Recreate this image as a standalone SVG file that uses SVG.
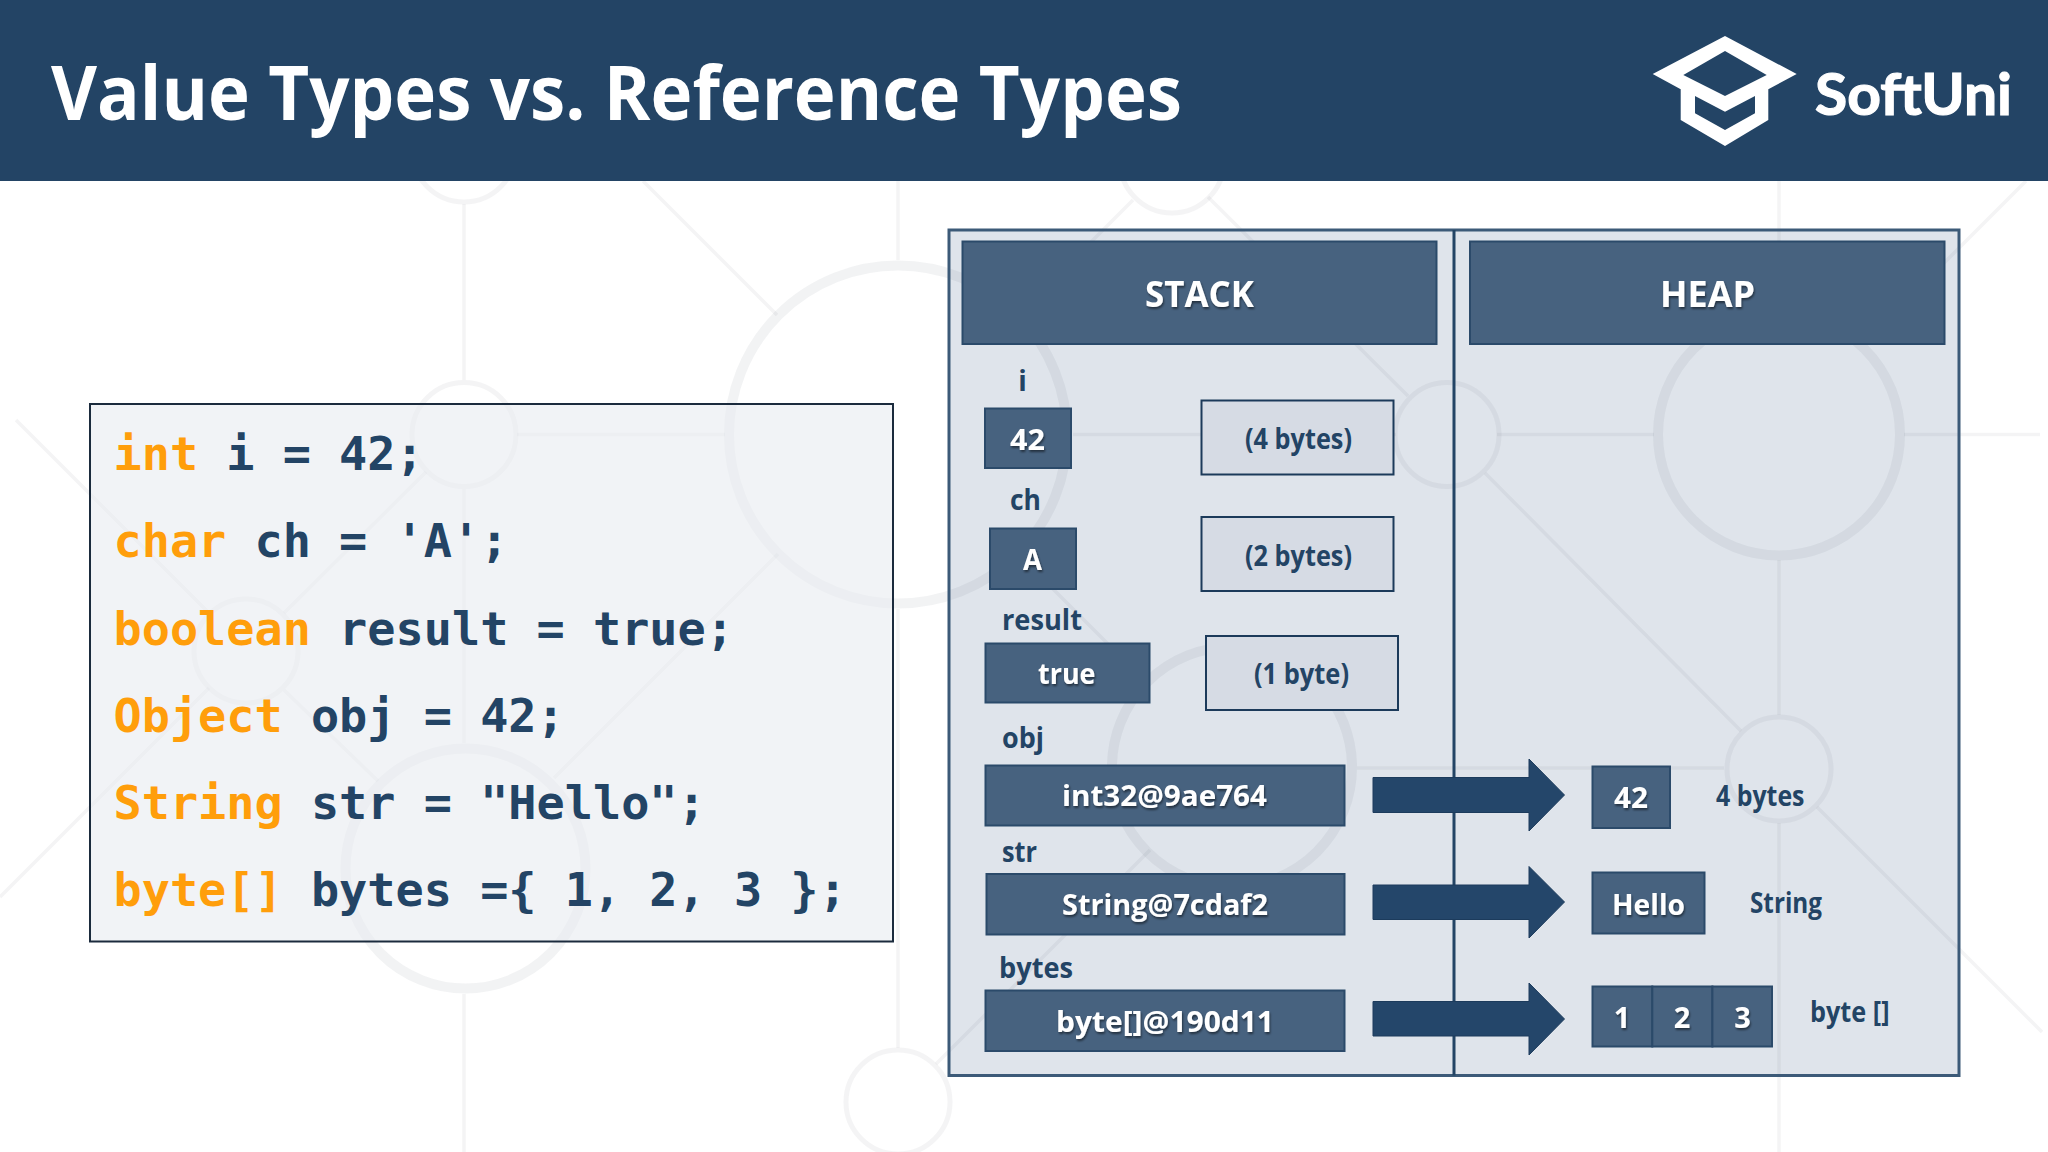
<svg xmlns="http://www.w3.org/2000/svg" width="2048" height="1152" viewBox="0 0 2048 1152">
<style>
text{font-family:"Open Sans","Liberation Sans",sans-serif;font-weight:700}
.bgl{stroke:rgba(60,70,85,.06);stroke-width:3.5;fill:none}
.bgs{stroke:rgba(60,70,85,.06);stroke-width:5;fill:none}
.bgb{stroke:rgba(60,70,85,.065);stroke-width:10;fill:none}
.box{fill:#47627f;stroke:#2b4a6a;stroke-width:2}
.note{fill:#d6dbe4;stroke:#1c3a5a;stroke-width:2}
.w{fill:#fff;font-size:29px;filter:url(#sh)}
.d{fill:#234465;font-size:28px}
.code{font-family:"DejaVu Sans Mono","Liberation Mono",monospace;font-size:46.85px;fill:#234465}
.k{fill:#ff9e0b}
.arr{fill:#24466a;stroke:#1c3b5c;stroke-width:1}
</style>
<defs>
<filter id="sh" x="-10%" y="-20%" width="120%" height="150%"><feDropShadow dx="1" dy="2" stdDeviation="1" flood-color="#000" flood-opacity=".5"/></filter>
</defs>
<rect width="2048" height="1152" fill="#fff"/>
<rect x="949" y="230" width="1010" height="845.500" fill="#dfe4eb"/>
<g id="background-pattern">
<path class="bgl" d="M464 204V380M464 489V743M464 994V1152M898 181V260M898 609V1048M1779 181V310M1779 560V715M1779 823V1152M517 434.500H725M1073 434.500H1396M1497 434.500H1654M1904 434.500H2040M1357 768H1724M643 181L777 315M1208 197L1408 396M1133 200L1021 312M1485 473L1741 731M1817 807L2042 1032M2026 181L1865 342M16 420L208 612M284 690L378 781M284 613L426 472M209 688L0 897M778 554L554 778M1020 556L1143 679M1150 850L936 1064"/>
<circle class="bgs" cx="464" cy="150" r="52"/>
<circle class="bgs" cx="464" cy="434.500" r="52"/>
<circle class="bgs" cx="1447" cy="434.500" r="52"/>
<circle class="bgs" cx="1172" cy="161" r="52"/>
<circle class="bgs" cx="246" cy="651" r="52"/>
<circle class="bgs" cx="1779" cy="769" r="52"/>
<circle class="bgs" cx="898" cy="1102" r="52"/>
<circle class="bgb" cx="898" cy="434.500" r="169"/>
<circle class="bgb" cx="1779" cy="434.500" r="121"/>
<circle class="bgb" cx="465.500" cy="868.500" r="120"/>
<circle class="bgb" cx="1232" cy="767" r="120"/>
</g>
<g id="header">
<rect width="2048" height="181" fill="#234465"/>
<text x="51" y="119.500" fill="#fff" font-size="76" textLength="1131" lengthAdjust="spacingAndGlyphs">Value Types vs. Reference Types</text>
</g>
<g id="logo">
<path fill="#fff" fill-rule="evenodd" d="M1725 36L1796.700 74L1768.300 89.300V120L1725 146L1680.700 120V89.300L1652.700 74ZM1725 51L1683.300 75L1725 96L1766.700 75ZM1695 96V113.300L1725 130L1755 113.300V96L1725 111.700Z"/>
<text x="1815" y="115" fill="#fff" stroke="#fff" stroke-width="1.2" font-size="58" style="font-family:Lato,'Open Sans',sans-serif" textLength="197" lengthAdjust="spacingAndGlyphs">SoftUni</text>
</g>
<g id="code">
<rect x="90" y="404" width="803" height="537.500" fill="rgba(232,235,240,.6)" stroke="#1b2b3d" stroke-width="2"/>
<text class="code" x="113.500" y="470"><tspan class="k">int</tspan> i = 42;</text>
<text class="code" x="113.500" y="557"><tspan class="k">char</tspan> ch = 'A';</text>
<text class="code" x="113.500" y="644.500"><tspan class="k">boolean</tspan> result = true;</text>
<text class="code" x="113.500" y="731.500"><tspan class="k">Object</tspan> obj = 42;</text>
<text class="code" x="113.500" y="818.500"><tspan class="k">String</tspan> str = "Hello";</text>
<text class="code" x="113.500" y="905.500"><tspan class="k">byte[]</tspan> bytes ={ 1, 2, 3 };</text>
</g>
<g id="memory-panel">
<rect x="949" y="230" width="1010" height="845.500" fill="none" stroke="#3c5a78" stroke-width="3"/>
<path d="M1454 230V1075.500" stroke="#234465" stroke-width="3" fill="none"/>
</g>
<g id="stack-header"><rect class="box" x="962.500" y="241.500" width="474" height="102.500"/><text class="w" style="font-size:36px" x="1145" y="307" textLength="109" lengthAdjust="spacingAndGlyphs">STACK</text></g>
<g id="heap-header"><rect class="box" x="1470" y="241.500" width="474.500" height="102.500"/><text class="w" style="font-size:36px" x="1660" y="307" textLength="95" lengthAdjust="spacingAndGlyphs">HEAP</text></g>
<g id="var-i">
<text class="d" x="1022.500" y="391" text-anchor="middle">i</text>
<rect class="box" x="985" y="408.500" width="86" height="59.500"/>
<text class="w" x="1010" y="450" textLength="35" lengthAdjust="spacingAndGlyphs">42</text>
</g>
<g id="size-i"><rect class="note" x="1201.500" y="400.500" width="192" height="74"/><text class="d" x="1245" y="449" textLength="107" lengthAdjust="spacingAndGlyphs">(4 bytes)</text></g>
<g id="var-ch">
<text class="d" x="1010" y="509.500" textLength="31" lengthAdjust="spacingAndGlyphs">ch</text>
<rect class="box" x="990" y="528.500" width="86" height="60.500"/>
<text class="w" x="1023" y="569.500" textLength="19" lengthAdjust="spacingAndGlyphs">A</text>
</g>
<g id="size-ch"><rect class="note" x="1201.500" y="517" width="192" height="74"/><text class="d" x="1245" y="565.500" textLength="107" lengthAdjust="spacingAndGlyphs">(2 bytes)</text></g>
<g id="var-result">
<text class="d" x="1002" y="630" textLength="80" lengthAdjust="spacingAndGlyphs">result</text>
<rect class="box" x="985.500" y="643.500" width="164" height="59"/>
<text class="w" x="1038" y="684" textLength="57.500" lengthAdjust="spacingAndGlyphs">true</text>
</g>
<g id="size-result"><rect class="note" x="1206" y="636" width="192" height="74"/><text class="d" x="1254" y="684" textLength="95" lengthAdjust="spacingAndGlyphs">(1 byte)</text></g>
<g id="var-obj">
<text class="d" x="1002" y="748" textLength="42" lengthAdjust="spacingAndGlyphs">obj</text>
<rect class="box" x="985.500" y="765.500" width="359" height="60"/>
<text class="w" x="1062" y="806" textLength="205" lengthAdjust="spacingAndGlyphs">int32@9ae764</text>
</g>
<g id="var-str">
<text class="d" x="1002" y="862" textLength="35" lengthAdjust="spacingAndGlyphs">str</text>
<rect class="box" x="986.500" y="874" width="358" height="60.500"/>
<text class="w" x="1062" y="915" textLength="206" lengthAdjust="spacingAndGlyphs">String@7cdaf2</text>
</g>
<g id="var-bytes">
<text class="d" x="999" y="978" textLength="74" lengthAdjust="spacingAndGlyphs">bytes</text>
<rect class="box" x="985.500" y="990.500" width="359" height="60.500"/>
<text class="w" x="1056" y="1032" textLength="218" lengthAdjust="spacingAndGlyphs">byte[]@190d11</text>
</g>
<g id="connectors">
<path class="arr" d="M1373 777.500H1529V759L1564.500 795L1529 831V812.500H1373Z"/>
<path class="arr" d="M1373 885H1529V866.500L1564.500 902L1529 938V919.500H1373Z"/>
<path class="arr" d="M1373 1001.500H1529V983L1564.500 1019L1529 1055V1036H1373Z"/>
</g>
<g id="heap-int">
<rect class="box" x="1592.500" y="766.500" width="77.500" height="61.500"/>
<text class="w" x="1614" y="808" textLength="34" lengthAdjust="spacingAndGlyphs">42</text>
<text class="d" x="1716" y="805.500" textLength="88.500" lengthAdjust="spacingAndGlyphs">4 bytes</text>
</g>
<g id="heap-string">
<rect class="box" x="1592.500" y="872.500" width="112" height="61"/>
<text class="w" x="1612" y="914.500" textLength="73" lengthAdjust="spacingAndGlyphs">Hello</text>
<text class="d" x="1750" y="913" textLength="72" lengthAdjust="spacingAndGlyphs">String</text>
</g>
<g id="heap-bytes">
<rect class="box" x="1592.500" y="986.500" width="59.800" height="60"/>
<rect class="box" x="1652.300" y="986.500" width="60.100" height="60"/>
<rect class="box" x="1712.400" y="986.500" width="59.600" height="60"/>
<text class="w" x="1622" y="1027.500" text-anchor="middle">1</text>
<text class="w" x="1682" y="1027.500" text-anchor="middle">2</text>
<text class="w" x="1742.500" y="1027.500" text-anchor="middle">3</text>
<text class="d" x="1810" y="1022" textLength="79.500" lengthAdjust="spacingAndGlyphs">byte []</text>
</g>
</svg>
